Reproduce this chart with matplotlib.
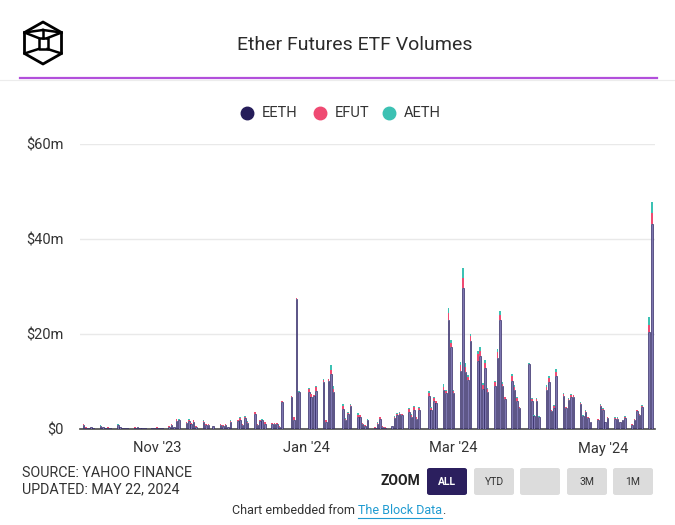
import matplotlib
matplotlib.use("Agg")
import matplotlib.pyplot as plt
import matplotlib.dates as mdates
from matplotlib.patches import Polygon, FancyBboxPatch
from matplotlib.lines import Line2D
import numpy as np
import pandas as pd

plt.rcParams['font.family'] = ['Roboto', 'DejaVu Sans']

# ---------------- data ----------------
title = "Ether Futures ETF Volumes"
series_names = ["EETH", "EFUT", "AETH"]
series_colors = ["#261d5a", "#ef4a72", "#3cc1b3"]
holidays = ["2023-11-23", "2023-12-25", "2024-01-01", "2024-01-15",
            "2024-02-19", "2024-03-29"]
start_date, end_date = "2023-10-02", "2024-05-21"

# values in $ millions, one per trading day
eeth = [0.8, 0.3, 0.2, 0.4, 0.2,  0.6, 0.4, 0.2, 0.3, 0.2,  0.8, 0.4, 0.2, 0.2, 0.2,
        0.3, 0.4, 0.2, 0.2, 0.2,  0.2, 0.2, 0.3, 0.2, 0.2,
        0.5, 0.8, 0.4, 1.6, 1.8,  1.2, 1.7, 1.0, 1.4, 0.5,  1.4, 0.8, 0.9, 0.6,
        0.8, 0.7, 0.9, 0.4, 1.5,
        1.6, 2.0, 0.8, 2.3, 1.3,  3.2, 0.8, 1.7, 1.8, 1.1,  1.0, 1.0, 1.0, 0.5, 5.7,
        6.7, 2.0, 27.4, 7.7,
        7.8, 6.8, 6.9, 8.1,  10.0, 1.4, 10.1, 11.5, 7.8,  4.2, 2.0, 3.1, 4.9,
        2.6, 2.5, 1.1, 0.7, 1.9,  0.3, 1.0, 2.2, 0.4, 0.3,
        0.6, 2.4, 2.9, 3.1, 2.9,  3.6, 2.6, 4.1, 2.2, 4.0,  6.9, 4.1, 6.0, 5.5,
        8.2, 7.5, 22.9, 17.2, 7.6,
        12.2, 29.6, 12.0, 10.4, 18.5,  14.4, 15.3, 8.5, 12.8, 7.8,
        9.0, 15.0, 22.9, 9.0, 6.4,  10.2, 8.2, 6.0, 4.4,
        13.6, 6.0, 2.7, 6.0, 2.5,  8.3, 10.0, 3.8, 4.5, 11.2,  7.0, 4.4, 6.1, 6.8, 6.8,
        5.3, 2.7, 3.6, 2.4, 1.4,  2.0, 4.8, 4.1, 1.4, 2.4,
        2.2, 2.2, 1.4, 1.8, 2.4,  0.9, 2.0, 3.7, 3.0, 4.7,  20.5, 43.1]
efut = [0.2, 0.1, 0.1, 0.1, 0.1,  0.1, 0.1, 0.1, 0.1, 0.0,  0.1, 0.1, 0.1, 0.1, 0.0,
        0.1, 0.1, 0.1, 0.0, 0.0,  0.1, 0.0, 0.1, 0.1, 0.0,
        0.1, 0.2, 0.1, 0.5, 0.2,  0.2, 0.3, 0.2, 0.4, 0.1,  0.3, 0.2, 0.2, 0.1,
        0.2, 0.1, 0.2, 0.1, 0.2,
        0.3, 0.4, 0.2, 0.3, 0.2,  0.3, 0.2, 0.2, 0.2, 0.3,  0.3, 0.3, 0.2, 0.1, 0.2,
        0.2, 0.5, 0.1, 0.1,
        0.7, 0.5, 0.2, 0.8,  0.4, 0.5, 0.4, 1.0, 0.6,  0.6, 0.2, 0.3, 0.2,
        0.4, 0.4, 0.1, 0.1, 0.1,  0.2, 0.3, 0.3, 0.2, 0.2,
        0.1, 0.2, 0.3, 0.3, 0.2,  0.6, 0.4, 0.6, 0.3, 0.5,  0.7, 0.4, 0.5, 0.3,
        0.7, 0.5, 1.5, 1.0, 0.4,
        1.2, 2.1, 1.0, 0.6, 1.0,  1.3, 1.1, 0.8, 1.2, 0.6,
        0.8, 1.2, 1.2, 0.5, 0.3,  0.9, 0.7, 0.6, 0.2,
        0.1, 0.4, 0.1, 0.4, 0.1,  0.6, 0.8, 0.1, 0.3, 0.9,  0.4, 0.2, 0.3, 0.4, 0.3,
        0.2, 0.1, 0.2, 0.1, 0.1,  0.1, 0.3, 0.2, 0.1, 0.1,
        0.2, 0.2, 0.1, 0.1, 0.2,  0.1, 0.1, 0.2, 0.1, 0.2,  1.4, 2.3]
aeth = [0.1, 0.0, 0.0, 0.0, 0.0,  0.1, 0.0, 0.0, 0.0, 0.0,  0.1, 0.0, 0.0, 0.0, 0.0,
        0.0, 0.0, 0.0, 0.0, 0.0,  0.0, 0.0, 0.0, 0.0, 0.0,
        0.0, 0.0, 0.0, 0.1, 0.1,  0.0, 0.1, 0.0, 0.1, 0.0,  0.1, 0.0, 0.0, 0.0,
        0.0, 0.0, 0.0, 0.0, 0.1,
        0.1, 0.1, 0.0, 0.1, 0.1,  0.1, 0.0, 0.1, 0.1, 0.0,  0.0, 0.0, 0.0, 0.0, 0.1,
        0.1, 0.1, 0.1, 0.1,
        0.1, 0.1, 0.1, 0.2,  0.2, 0.1, 0.1, 1.0, 0.7,  0.4, 0.1, 0.1, 0.1,
        0.3, 0.1, 0.1, 0.0, 0.1,  0.0, 0.1, 0.1, 0.0, 0.0,
        0.0, 0.1, 0.1, 0.1, 0.1,  0.3, 0.1, 0.2, 0.1, 0.2,  0.4, 0.2, 0.3, 0.1,
        0.5, 0.3, 1.0, 0.6, 0.3,
        0.8, 2.3, 0.8, 0.4, 0.6,  0.8, 0.8, 0.3, 0.5, 0.2,
        0.4, 0.6, 0.8, 0.3, 0.1,  0.5, 0.4, 0.2, 0.1,
        0.1, 0.1, 0.1, 0.1, 0.1,  0.4, 0.4, 0.1, 0.2, 0.5,  0.2, 0.1, 0.1, 0.2, 0.1,
        0.1, 0.1, 0.1, 0.1, 0.0,  0.1, 0.1, 0.1, 0.0, 0.1,
        0.1, 0.1, 0.0, 0.1, 0.1,  0.0, 0.1, 0.1, 0.1, 0.1,  1.7, 2.3]

y_ticks = [0, 20, 40, 60]
y_tick_labels = ["$0", "$20m", "$40m", "$60m"]
x_tick_dates = ["2023-11-01", "2024-01-01", "2024-03-01", "2024-05-01"]
x_tick_labels = ["Nov '23", "Jan '24", "Mar '24", "May '24"]
zoom_buttons = ["ALL", "YTD", "", "3M", "1M"]

dates = pd.bdate_range(start_date, end_date, freq="C", holidays=holidays)
assert len(dates) == len(eeth) == len(efut) == len(aeth), (len(dates), len(eeth), len(efut), len(aeth))

# ---------------- figure ----------------
W, H = 675, 525
fig = plt.figure(figsize=(W / 100, H / 100), dpi=100)
fig.patch.set_facecolor("white")

def fx(px):
    return px / W

def fy(py):
    return 1 - py / H

ax = fig.add_axes([fx(80), fy(429), fx(655) - fx(80), fy(144) - fy(429)])
x = mdates.date2num(dates.to_pydatetime())
e1 = np.array(eeth); e2 = np.array(efut); e3 = np.array(aeth)
bw = 0.65
ax.bar(x, e1, width=bw, color="#7d76b0", edgecolor=series_colors[0], linewidth=0.45, zorder=3)
ax.bar(x, e2, width=bw, bottom=e1, color=series_colors[1], linewidth=0, zorder=3)
ax.bar(x, e3, width=bw, bottom=e1 + e2, color=series_colors[2], linewidth=0, zorder=3)

ax.set_ylim(0, 60)
ax.set_xlim(mdates.date2num(pd.Timestamp("2023-09-30 14:00")),
            mdates.date2num(pd.Timestamp("2024-05-22 08:00")))
ax.set_yticks(y_ticks)
ax.set_yticklabels(y_tick_labels)
ax.set_xticks(mdates.date2num(pd.to_datetime(x_tick_dates).to_pydatetime()))
ax.set_xticklabels(x_tick_labels)
ax.tick_params(axis="both", length=0, labelsize=10.5, colors="#333333")
ax.tick_params(axis="y", pad=12)
ax.tick_params(axis="x", pad=9)
ax.grid(axis="y", color="#e9e9e9", linewidth=1, zorder=0)
for s in ["top", "right", "left"]:
    ax.spines[s].set_visible(False)
ax.spines["bottom"].set_color("#4a4a4a")
ax.spines["bottom"].set_linewidth(1.2)
ax.set_facecolor("white")

# ---------------- header ----------------
fig.text(fx(355), fy(45), title, ha="center", va="center", fontsize=14, color="#2b2b2b")
fig.add_artist(Line2D([0, 1], [fy(79.5), fy(79.5)], color="#ececec", linewidth=0.8))
fig.add_artist(Line2D([fx(20), fx(657)], [fy(78), fy(78)], color="#b24fdb", linewidth=1.6))

# logo (hexagonal cube)
cx, cy, r = 43, 43, 21
hexpts = [(cx, cy - r), (cx + 18.5, cy - r / 2), (cx + 18.5, cy + r / 2),
          (cx, cy + r), (cx - 18.5, cy + r / 2), (cx - 18.5, cy - r / 2)]
fig.add_artist(Polygon([(fx(a), fy(b)) for a, b in hexpts], closed=True, fill=False,
                       edgecolor="black", linewidth=2.0, joinstyle="round"))
inner = [(cx - 4.5, cy - 5), (cx + 4.5, cy - 5), (cx + 4.5, cy + 6), (cx - 4.5, cy + 6)]
fig.add_artist(Polygon([(fx(a), fy(b)) for a, b in inner], closed=True, fill=False,
                       edgecolor="black", linewidth=1.8, joinstyle="round"))
for (a0, b0), (a1, b1) in [(hexpts[5], inner[0]), (hexpts[1], inner[1]),
                           (hexpts[2], inner[2]), (hexpts[4], inner[3]),
                           (hexpts[5], (cx, cy - 13)), (hexpts[1], (cx, cy - 13))]:
    fig.add_artist(Line2D([fx(a0), fx(a1)], [fy(b0), fy(b1)], color="black", linewidth=1.8))
fig.add_artist(Line2D([fx(cx), fx(cx)], [fy(cy - 13), fy(cy - 5)], color="black", linewidth=1.8))

# legend
leg_x = [247, 320, 389]
for i, name in enumerate(series_names):
    fig.add_artist(Line2D([fx(leg_x[i])], [fy(113)], marker="o", markersize=9,
                          color=series_colors[i], linestyle="none"))
    fig.text(fx(leg_x[i] + 15), fy(113), name, ha="left", va="center",
             fontsize=10.5, color="#333333")

# ---------------- footer ----------------
fig.text(fx(22), fy(473), "SOURCE: YAHOO FINANCE", ha="left", va="center",
         fontsize=10.3, color="#333333")
fig.text(fx(22), fy(489), "UPDATED: MAY 22, 2024", ha="left", va="center",
         fontsize=10.3, color="#333333")
fig.text(fx(420), fy(481), "ZOOM", ha="right", va="center", fontsize=10,
         fontweight="bold", color="#222222")
btn_x = [427, 474, 520, 567, 613]
for i, lab in enumerate(zoom_buttons):
    active = i == 0
    fig.add_artist(FancyBboxPatch((fx(btn_x[i]), fy(495)), fx(40), fy(468) - fy(495),
                                  boxstyle="round,pad=0,rounding_size=0.004",
                                  facecolor="#2b1f5e" if active else "#dcdcdc",
                                  edgecolor="none"))
    fig.text(fx(btn_x[i] + 20), fy(482), lab, ha="center", va="center", fontsize=7.5,
             fontweight="bold" if active else "normal",
             color="white" if active else "#333333")

t1 = fig.text(fx(358), fy(511), "Chart embedded from ", ha="right", va="center",
              fontsize=9, color="#333333")
t2 = fig.text(fx(358), fy(511), "The Block Data", ha="left", va="center",
              fontsize=9, color="#1f9bd1")
fig.canvas.draw()
bb = t2.get_window_extent()
fig.add_artist(Line2D([bb.x0 / W, bb.x1 / W], [fy(518), fy(518)], color="#1f9bd1", linewidth=0.8))
fig.text(bb.x1 / W, fy(511), ".", ha="left", va="center", fontsize=9, color="#333333")

fig.savefig("out.png", dpi=100, facecolor="white")
